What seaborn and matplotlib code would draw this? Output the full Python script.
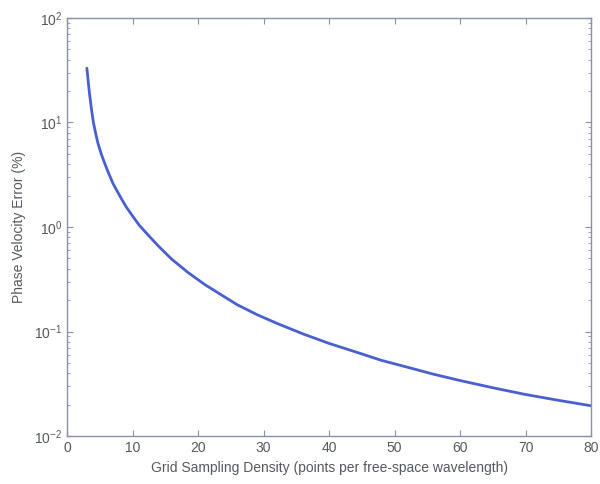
import numpy as np
import pandas as pd
import seaborn as sns
from matplotlib import pyplot as plt
from matplotlib.ticker import LogLocator, NullFormatter

# values
density = [3.0, 3.1, 3.2, 3.4, 3.7, 4.0, 4.4, 4.7, 5.2, 5.8, 6.3, 7.0, 8.0, 9.0,
           10.0, 11.0, 12.5, 13.8, 14.8, 16.0, 18.5, 21.0, 23.5, 26.0, 29.0,
           32.0, 36.0, 40.0, 44.0, 48.0, 52.0, 56.0, 60.0, 65.0, 70.0, 75.0, 80.0]
error_pct = [33.0, 29.0, 25.0, 19.0, 13.5, 10.0, 7.6, 6.3, 5.0, 3.95, 3.3, 2.6,
             2.0, 1.56, 1.27, 1.04, 0.82, 0.67, 0.58, 0.49, 0.365, 0.282, 0.225,
             0.18, 0.145, 0.12, 0.095, 0.077, 0.064, 0.053, 0.0455, 0.039, 0.034,
             0.029, 0.025, 0.022, 0.0195]

df = pd.DataFrame({'density': density, 'error': error_pct})

sns.set_style('ticks')
plt.rcParams['font.family'] = ['Liberation Sans', 'DejaVu Sans']
txt = '#55585f'
edge = '#8a90a8'

fig = plt.figure(figsize=(6.0, 4.84), dpi=100)
ax = fig.add_axes([0.112, 0.099, 0.873, 0.864])

sns.lineplot(data=df, x='density', y='error', ax=ax, color='#4a5fd0', linewidth=2.0)

ax.set_yscale('log')
ax.set_xlim(0, 80)
ax.set_ylim(1e-2, 1e2)
ax.set_xticks(range(0, 81, 10))
ax.yaxis.set_major_locator(LogLocator(base=10, numticks=10))
ax.yaxis.set_minor_locator(LogLocator(base=10, subs=np.arange(2, 10), numticks=10))
ax.yaxis.set_minor_formatter(NullFormatter())

for s in ax.spines.values():
    s.set_color(edge)
    s.set_linewidth(1.0)
ax.tick_params(axis='both', which='both', direction='in', top=True, right=True,
               colors=edge, labelcolor=txt, labelsize=10)
ax.tick_params(which='major', length=4)
ax.tick_params(which='minor', length=2)

ax.set_xlabel('Grid Sampling Density (points per free-space wavelength)', color=txt, fontsize=10, labelpad=4)
ax.set_ylabel('Phase Velocity Error (%)', color=txt, fontsize=10, labelpad=6)

fig.savefig('out.png', dpi=100)
